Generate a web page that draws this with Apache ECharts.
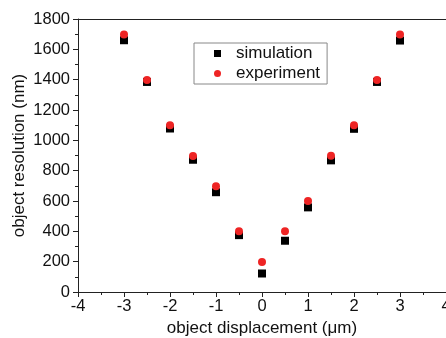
<!DOCTYPE html>
<html>
<head>
<meta charset="utf-8">
<script src="https://cdn.jsdelivr.net/npm/echarts@6/dist/echarts.min.js"></script>
<style>
  html, body { margin: 0; padding: 0; background: #fff; }
  #chart { width: 446px; height: 338px; }
</style>
</head>
<body>
<div id="chart"></div>
<script>
// Object displacement (µm)
const displacement = [-3, -2.5, -2, -1.5, -1, -0.5, 0, 0.5, 1, 1.5, 2, 2.5, 3];
// Object resolution (nm)
const simulation = [1660, 1385, 1078, 872, 658, 375, 122, 338, 558, 868, 1076, 1385, 1658];
const experiment = [1698, 1398, 1099, 897, 698, 400, 198, 400, 600, 899, 1099, 1398, 1697];

const font = 'Liberation Sans, Arial, sans-serif';
const axisColor = '#222';

const chart = echarts.init(document.getElementById('chart'), null, { renderer: 'canvas' });

chart.setOption({
  animation: false,
  backgroundColor: '#fff',
  grid: { left: 78, top: 19, right: 0, bottom: 46, containLabel: false, outerBoundsMode: 'none' },
  legend: {
    orient: 'vertical',
    left: 194,
    top: 43,
    padding: [2, 7, 2, 20],
    itemGap: 3,
    itemWidth: 7,
    itemHeight: 7,
    borderColor: '#888',
    borderWidth: 1,
    textStyle: { fontFamily: font, fontSize: 17, color: '#111', padding: [0, 0, 0, 10] },
    data: [
      { name: 'simulation', icon: 'rect' },
      { name: 'experiment', icon: 'circle' }
    ]
  },
  xAxis: [
    {
      type: 'value',
      min: -4,
      max: 4,
      interval: 1,
      name: 'object displacement (\u03bcm)',
      nameLocation: 'middle',
      nameGap: 28,
      nameMoveOverlap: false,
      nameTextStyle: { fontFamily: font, fontSize: 17, color: '#111' },
      axisLine: { show: true, onZero: false, lineStyle: { color: axisColor, width: 1 } },
      axisTick: { show: true, inside: false, length: 5, lineStyle: { color: axisColor } },
      minorTick: { show: true, splitNumber: 2, length: 3, lineStyle: { color: axisColor } },
      axisLabel: {
        fontFamily: font, fontSize: 16.5, color: '#111', margin: 6,
        showMinLabel: true, showMaxLabel: true, hideOverlap: false
      },
      splitLine: { show: false }
    },
    {
      type: 'value',
      position: 'top',
      min: -4,
      max: 4,
      axisLine: { show: true, onZero: false, lineStyle: { color: axisColor, width: 1 } },
      axisTick: { show: false },
      axisLabel: { show: false },
      splitLine: { show: false }
    }
  ],
  yAxis: {
    type: 'value',
    min: 0,
    max: 1800,
    interval: 200,
    name: 'object resolution (nm)',
    nameLocation: 'middle',
    nameGap: 50,
    nameMoveOverlap: false,
    nameTextStyle: { fontFamily: font, fontSize: 17, color: '#111' },
    axisLine: { show: true, onZero: false, lineStyle: { color: axisColor, width: 1 } },
    axisTick: { show: true, inside: false, length: 5, lineStyle: { color: axisColor } },
    minorTick: { show: true, splitNumber: 2, length: 3, lineStyle: { color: axisColor } },
    axisLabel: { fontFamily: font, fontSize: 16.5, color: '#111', margin: 8, formatter: v => String(v) },
    splitLine: { show: false }
  },
  series: [
    {
      name: 'simulation',
      type: 'scatter',
      symbol: 'rect',
      symbolSize: 8,
      itemStyle: { color: '#000', opacity: 1 },
      data: displacement.map((x, i) => [x, simulation[i]])
    },
    {
      name: 'experiment',
      type: 'scatter',
      symbol: 'circle',
      symbolSize: 8,
      itemStyle: { color: '#ee2424', opacity: 1 },
      data: displacement.map((x, i) => [x, experiment[i]])
    }
  ]
});
</script>
</body>
</html>
